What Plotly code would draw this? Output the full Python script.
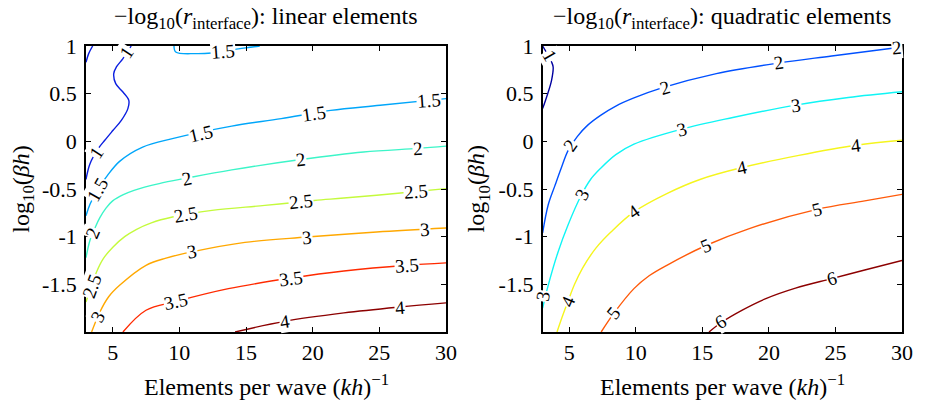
import plotly.graph_objects as go

# ---------------- data ----------------
# Left panel: linear elements, contour levels and traced contour curves
lin_levels = [1, 1.5, 2, 2.5, 3, 3.5, 4]

lin_1a_x = [3.0, 3.2, 3.5]
lin_1a_y = [0.83, 0.92, 1.0]
lin_1b_x = [6.39, 5.77, 5.28, 5.08, 5.23, 5.77, 6.21, 6.14, 5.65, 5.03, 4.41, 3.92, 3.30, 3.0]
lin_1b_y = [1.0, 0.868, 0.78, 0.71, 0.605, 0.517, 0.43, 0.343, 0.22, 0.116, 0.011, -0.076, -0.234, -0.40]
lin_15a_x = [9.6, 9.73, 11.21, 12.42, 14.42, 16.03]
lin_15a_y = [1.0, 0.937, 0.92, 0.927, 0.97, 1.0]
lin_15b_x = [3.0, 3.3, 3.9, 4.6, 5.52, 7.25, 9.48, 13.93, 17.64, 21.35, 25.06, 30]
lin_15b_y = [-0.78, -0.66, -0.50, -0.36, -0.21, -0.06, 0.029, 0.16, 0.238, 0.325, 0.378, 0.448]
lin_2_x = [3.0, 3.3, 3.7, 4.04, 4.5, 5.0, 5.8, 6.6, 8.49, 10.59, 13.93, 19.12, 23.82, 27.9, 30]
lin_2_y = [-1.22, -1.038, -0.90, -0.80, -0.70, -0.625, -0.56, -0.514, -0.443, -0.385, -0.30, -0.191, -0.112, -0.074, -0.05]
lin_25_x = [3.0, 3.79, 4.3, 5.03, 5.9, 6.76, 7.9, 9.48, 12.45, 16.41, 20.12, 22.34, 26.79, 30]
lin_25_y = [-1.685, -1.37, -1.23, -1.108, -1.0, -0.925, -0.855, -0.794, -0.724, -0.672, -0.62, -0.595, -0.54, -0.496]
lin_3_x = [3.42, 4.04, 4.7, 5.52, 7.5, 9.0, 10.92, 14.92, 19.56, 24.8, 30]
lin_3_y = [-2.0, -1.79, -1.63, -1.51, -1.30, -1.225, -1.16, -1.06, -1.004, -0.951, -0.909]
lin_35_x = [5.77, 7.5, 9.73, 13.68, 18.38, 22.34, 27.04, 30]
lin_35_y = [-2.0, -1.772, -1.68, -1.545, -1.434, -1.36, -1.30, -1.275]
lin_4_x = [14.18, 17.89, 22.34, 26.53, 30]
lin_4_y = [-2.0, -1.888, -1.80, -1.738, -1.695]

lin_lbl_text = ["1", "1", "1.5", "1.5", "1.5", "1.5", "1.5",
                "2", "2", "2", "2", "2.5", "2.5", "2.5", "2.5",
                "3", "3", "3", "3", "3.5", "3.5", "3.5", "4", "4"]
lin_lbl_x = [6.05, 3.78, 13.3, 3.85, 11.66, 20.12, 28.72,
             3.54, 10.59, 19.12, 27.9, 3.42, 10.47, 19.12, 27.78,
             3.9, 10.92, 19.56, 28.4, 9.73, 18.38, 27.04, 17.89, 26.53]
lin_lbl_y = [0.93, -0.112, 0.945, -0.50, 0.086, 0.295, 0.432,
             -0.96, -0.385, -0.191, -0.074, -1.52, -0.771, -0.634, -0.525,
             -1.84, -1.16, -1.004, -0.92, -1.68, -1.434, -1.30, -1.888, -1.738]
lin_lbl_ang = [-56, -57, -4, -60, -13, -8, -4,
               -67, -12, -7, -4, -70, -10, -6, -4,
               -62, -10, -6, -4, -12, -7, -4, -9, -5]

# Right panel: quadratic elements
quad_levels = [1, 2, 3, 4, 5, 6]

quad_1_x = [3.0, 3.67, 3.79, 3.67, 3.30, 3.0]
quad_1_y = [1.0, 0.832, 0.78, 0.64, 0.465, 0.343]
quad_2_x = [3.0, 3.42, 3.91, 4.4, 4.9, 5.6, 6.39, 7.38, 8.5, 9.86, 11.96, 16.05, 20.76, 24.72, 30]
quad_2_y = [-0.96, -0.665, -0.47, -0.28, -0.10, 0.05, 0.17, 0.275, 0.37, 0.455, 0.56, 0.71, 0.822, 0.895, 0.99]
quad_3_x = [3.0, 3.42, 4.16, 4.9, 5.9, 6.6, 7.38, 8.5, 9.86, 13.45, 17.29, 22.0, 25.96, 30]
quad_3_y = [-1.75, -1.51, -1.16, -0.88, -0.566, -0.40, -0.28, -0.14, -0.03, 0.128, 0.25, 0.38, 0.46, 0.52]
quad_4_x = [4.08, 4.5, 4.9, 5.4, 6.0, 7.0, 8.13, 9.86, 12.33, 14.82, 17.98, 22.25, 26.58, 30]
quad_4_y = [-2.0, -1.83, -1.68, -1.50, -1.33, -1.12, -0.951, -0.74, -0.548, -0.40, -0.275, -0.147, -0.041, 0.011]
quad_5_x = [7.4, 8.37, 9.86, 11.0, 12.33, 15.31, 18.53, 23.61, 27.2, 30]
quad_5_y = [-2.0, -1.80, -1.545, -1.41, -1.30, -1.09, -0.915, -0.713, -0.625, -0.556]
quad_6_x = [15.5, 16.42, 18.0, 19.77, 22.0, 24.72, 27.2, 30]
quad_6_y = [-2.0, -1.90, -1.77, -1.65, -1.54, -1.44, -1.35, -1.25]

quad_lbl_text = ["1", "2", "2", "2", "2", "3", "3", "3", "3",
                 "4", "4", "4", "4", "5", "5", "5", "6", "6"]
quad_lbl_x = [3.59, 5.05, 12.2, 20.76, 29.6, 3.05, 5.95, 13.45, 22.0,
              4.9, 9.86, 17.98, 26.58, 8.37, 15.31, 23.61, 16.42, 24.72]
quad_lbl_y = [0.895, -0.04, 0.565, 0.822, 0.985, -1.62, -0.555, 0.128, 0.38,
              -1.68, -0.74, -0.275, -0.041, -1.80, -1.09, -0.713, -1.895, -1.44]
quad_lbl_ang = [60, -55, -17, -9, -5, -80, -62, -16, -8,
                -67, -35, -13, -7, -51, -23, -15, -31, -16]

x_ticks = [5, 10, 15, 20, 25, 30]
y_ticks = [-1.5, -1, -0.5, 0, 0.5, 1]
y_tick_text = ["-1.5", "-1", "-0.5", "0", "0.5", "1"]

# ---------------- styles ----------------
lin_colors = {1: "#0a1ee0", 1.5: "#00a6fa", 2: "#3cf5c8", 2.5: "#c4fa3c",
              3: "#ffa800", 3.5: "#ff2a00", 4: "#8c0000"}
quad_colors = {1: "#0000a0", 2: "#0050ff", 3: "#10f5f5", 4: "#f5f51e",
               5: "#ff5a0a", 6: "#8c0000"}
FONT = "Liberation Serif"

lin_segments = [(1, lin_1a_x, lin_1a_y), (1, lin_1b_x, lin_1b_y),
                (1.5, lin_15a_x, lin_15a_y), (1.5, lin_15b_x, lin_15b_y),
                (2, lin_2_x, lin_2_y), (2.5, lin_25_x, lin_25_y),
                (3, lin_3_x, lin_3_y), (3.5, lin_35_x, lin_35_y),
                (4, lin_4_x, lin_4_y)]
quad_segments = [(1, quad_1_x, quad_1_y), (2, quad_2_x, quad_2_y),
                 (3, quad_3_x, quad_3_y), (4, quad_4_x, quad_4_y),
                 (5, quad_5_x, quad_5_y), (6, quad_6_x, quad_6_y)]

fig = go.Figure()


def add_panel(segments, colors, xa, ya):
    for lvl, xs, ys in segments:
        fig.add_trace(go.Scatter(
            x=xs, y=ys, mode="lines", xaxis=xa, yaxis=ya,
            line=dict(color=colors[lvl], width=1.4, shape="spline", smoothing=1.0),
            hoverinfo="skip", showlegend=False, name=str(lvl)))


add_panel(lin_segments, lin_colors, "x", "y")
add_panel(quad_segments, quad_colors, "x2", "y2")

annotations = []


def add_labels(texts, xs, ys, angs, xref, yref):
    for t, x, y, a in zip(texts, xs, ys, angs):
        annotations.append(dict(
            x=x, y=y, xref=xref, yref=yref, text=t, textangle=a,
            showarrow=False, bgcolor="white", borderpad=0,
            font=dict(family=FONT, size=19, color="black")))


add_labels(lin_lbl_text, lin_lbl_x, lin_lbl_y, lin_lbl_ang, "x", "y")
add_labels(quad_lbl_text, quad_lbl_x, quad_lbl_y, quad_lbl_ang, "x2", "y2")

title_font = dict(family=FONT, size=24, color="black")
label_font = dict(family=FONT, size=24, color="black")
for cx, name in [(0.2206, "linear"), (0.7797, "quadratic")]:
    annotations.append(dict(
        x=cx, y=1.158, xref="paper", yref="paper", showarrow=False,
        xanchor="center", yanchor="top", font=title_font,
        text="\u2212log<sub>10</sub>(<i>r</i><sub>interface</sub>): " + name + " elements"))
for cx in [0.2206, 0.7797]:
    annotations.append(dict(
        x=cx, y=-0.185, xref="paper", yref="paper", showarrow=False,
        xanchor="center", yanchor="middle", font=label_font,
        text="Elements per wave (<i>kh</i>)<sup>\u22121</sup>"))
for cx in [-0.0776, 0.481]:
    annotations.append(dict(
        x=cx, y=0.5, xref="paper", yref="paper", showarrow=False,
        xanchor="center", yanchor="middle", textangle=-90, font=label_font,
        text="log<sub>10</sub>(<i>\u03b2h</i>)"))

axis_common = dict(showline=True, linecolor="black", linewidth=1.6, mirror="allticks",
                   ticks="inside", ticklen=5, tickwidth=1, tickcolor="black",
                   showgrid=False, zeroline=False,
                   tickfont=dict(family=FONT, size=22, color="black"))

fig.update_layout(
    width=925, height=403,
    margin=dict(l=86, r=14, t=46, b=71),
    paper_bgcolor="white", plot_bgcolor="white",
    xaxis=dict(domain=[0, 0.4412], range=[3, 30], tickvals=x_ticks, anchor="y", **axis_common),
    yaxis=dict(domain=[0, 1], range=[-2, 1], tickvals=y_ticks, ticktext=y_tick_text, anchor="x",
               ticklabelstandoff=3, **axis_common),
    xaxis2=dict(domain=[0.5596, 1], range=[3, 30], tickvals=x_ticks, anchor="y2", **axis_common),
    yaxis2=dict(domain=[0, 1], range=[-2, 1], tickvals=y_ticks, ticktext=y_tick_text, anchor="x2",
                ticklabelstandoff=3, **axis_common),
    annotations=annotations,
)

# remove the default 8 px page margin so the figure fills the window exactly
fig.write_html("out.html", config={"displayModeBar": False},
               post_script="document.body.style.margin='0px';document.body.style.overflow='hidden';")
